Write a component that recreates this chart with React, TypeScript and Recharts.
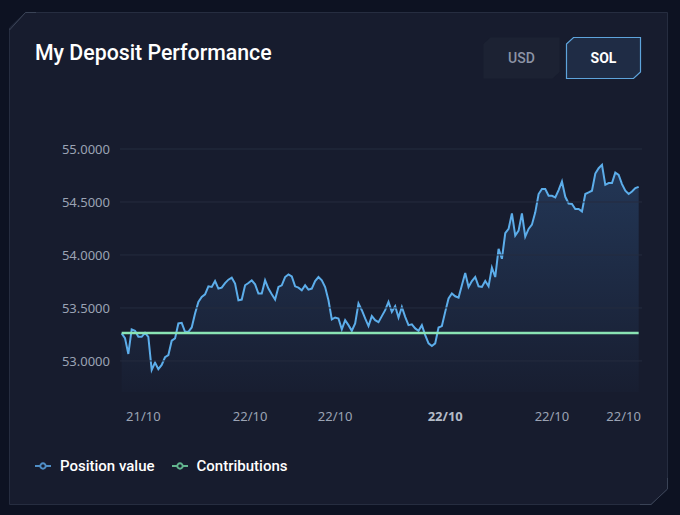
import React from 'react';
import { ComposedChart, Area, Line, XAxis, YAxis, ReferenceLine, Legend } from 'recharts';

const positionValues: number[] = [
  53.26, 53.216, 53.066, 53.298, 53.285, 53.228, 53.228, 53.266, 53.228, 52.915,
  52.984, 52.922, 52.962, 53.035, 53.056, 53.191, 53.213, 53.354, 53.36, 53.275,
  53.275, 53.316, 53.448, 53.557, 53.604, 53.629, 53.704, 53.698, 53.754, 53.683,
  53.692, 53.735, 53.767, 53.786, 53.73, 53.573, 53.579, 53.714, 53.735, 53.761,
  53.723, 53.636, 53.636, 53.761, 53.683, 53.629, 53.579, 53.698, 53.714, 53.792,
  53.817, 53.798, 53.704, 53.692, 53.667, 53.714, 53.673, 53.683, 53.754, 53.792,
  53.761, 53.698, 53.573, 53.392, 53.41, 53.401, 53.298, 53.385, 53.338, 53.285,
  53.354, 53.542, 53.479, 53.401, 53.329, 53.423, 53.385, 53.366, 53.423, 53.479,
  53.557, 53.463, 53.516, 53.41, 53.51, 53.416, 53.338, 53.345, 53.307, 53.285,
  53.338, 53.244, 53.166, 53.141, 53.166, 53.316, 53.329, 53.463, 53.589, 53.636,
  53.61, 53.598, 53.714, 53.829, 53.698, 53.754, 53.792, 53.704, 53.698, 53.754,
  53.704, 53.88, 53.792, 54.058, 53.964, 54.205, 54.246, 54.392, 54.183, 54.23,
  54.392, 54.174, 54.246, 54.286, 54.402, 54.575, 54.622, 54.622, 54.559, 54.559,
  54.543, 54.612, 54.693, 54.549, 54.486, 54.481, 54.434, 54.434, 54.411, 54.575,
  54.59, 54.606, 54.768, 54.819, 54.85, 54.662, 54.678, 54.678, 54.777, 54.756,
  54.669, 54.606, 54.575, 54.599, 54.631, 54.643,
];
const contributionValue = 53.263;

const yTicks = [53, 53.5, 54, 54.5, 55];
const yDomain: [number, number] = [52.707, 55];
const xDomain: [number, number] = [0.5, 157];
const xTickIndex = [7.5, 39.5, 65, 98, 130, 151.5];
const xTickLabels = ['21/10', '22/10', '22/10', '22/10', '22/10', '22/10'];
const boldTickIndex = 3;

const titleText = 'My Deposit Performance';
const currencies = ['USD', 'SOL'];
const activeCurrency = 'SOL';
const seriesOrder = ['position', 'contributions'];
const seriesNames = { position: 'Position value', contributions: 'Contributions' };

const data = positionValues.map((v, i) => ({
  t: i + 1,
  position: v,
  contributions: contributionValue,
}));

const legendIconColors: Record<string, string> = {
  position: '#4f8ec6',
  contributions: '#62b48e',
};

const XTick = (props: any) => {
  const { x, y, payload } = props;
  const i = xTickIndex.indexOf(payload.value);
  return (
    <text
      x={x}
      y={y}
      dy="0.71em"
      textAnchor="middle"
      fill={i === boldTickIndex ? '#b4bbc8' : '#9ba3b4'}
      fontSize={13}
      fontWeight={i === boldTickIndex ? 700 : 400}
      fontFamily="'Noto Sans', sans-serif"
    >
      {xTickLabels[i]}
    </text>
  );
};

const renderLegend = (props: any) => {
  const payload = [...(props.payload || [])].sort(
    (a: any, b: any) => seriesOrder.indexOf(a.dataKey) - seriesOrder.indexOf(b.dataKey)
  );
  return (
    <div style={{ display: 'flex', alignItems: 'center', height: 20 }}>
      {payload.map((entry: any, idx: number) => {
        const c = legendIconColors[entry.dataKey] || entry.color;
        return (
          <div key={idx} style={{ display: 'flex', alignItems: 'center', marginRight: 17 }}>
            <svg width={16} height={16} viewBox="0 0 32 32" style={{ display: 'block' }}>
              <path
                strokeWidth={4}
                fill="none"
                stroke={c}
                d="M0,16h10.67A5.33,5.33,0,1,1,21.33,16H32M21.33,16A5.33,5.33,0,1,1,10.67,16"
              />
            </svg>
            <span
              style={{
                marginLeft: 9,
                color: '#ffffff',
                fontFamily: 'Roboto, sans-serif',
                fontWeight: 500,
                fontSize: 15,
                lineHeight: '20px',
              }}
            >
              {entry.value}
            </span>
          </div>
        );
      })}
    </div>
  );
};

const Background = () => (
  <svg width={680} height={515} style={{ position: 'absolute', left: 0, top: 0 }}>
    <rect x={0} y={0} width={680} height={515} fill="#0d1222" />
    <polygon
      points="9.5,28 25.5,12.5 667.5,12.5 667.5,489 651,504.5 9.5,504.5"
      fill="#171c2e"
      stroke="#262d40"
      strokeWidth={1}
    />
    <polyline points="9.5,30 25.5,12.5 36,12.5" fill="none" stroke="#3a4356" strokeWidth={1} />
    <polyline points="667.5,478 667.5,489 651,504.5 640,504.5" fill="none" stroke="#3a4356" strokeWidth={1} />
    <text
      x={35}
      y={60}
      fill="#ffffff"
      fontSize={21.3}
      fontWeight={500}
      fontFamily="Roboto, sans-serif"
    >
      {titleText}
    </text>
    {currencies.map((c, i) => {
      const x0 = i === 0 ? 483 : 566;
      const x1 = i === 0 ? 560 : 641;
      const y0 = 37;
      const y1 = 79;
      const active = c === activeCurrency;
      const pts = `${x0 + 0.5},${y0 + 7} ${x0 + 7.5},${y0 + 0.5} ${x1 - 0.5},${y0 + 0.5} ${x1 - 0.5},${y1 - 7} ${x1 - 7.5},${y1 - 0.5} ${x0 + 0.5},${y1 - 0.5}`;
      return (
        <g key={c}>
          <polygon
            points={pts}
            fill={active ? '#1f2c45' : '#1c2233'}
            stroke={active ? '#5ea4dc' : 'none'}
            strokeWidth={1.2}
          />
          <text
            x={(x0 + x1) / 2}
            y={63}
            textAnchor="middle"
            fill={active ? '#ffffff' : '#8c94a6'}
            fontSize={14}
            fontWeight={active ? 700 : 500}
            fontFamily="Roboto, sans-serif"
          >
            {c}
          </text>
        </g>
      );
    })}
  </svg>
);

export default function App() {
  return (
    <div style={{ position: 'fixed', left: 0, top: 0, width: 680, height: 515, overflow: 'hidden' }}>
      <Background />
      <div style={{ position: 'absolute', left: 0, top: 0 }}>
        <ComposedChart
          width={680}
          height={515}
          data={data}
          margin={{ top: 149, right: 38, bottom: 73, left: 0 }}
        >
          <defs>
            <linearGradient id="posFill" x1="0" y1="0" x2="0" y2="1">
              <stop offset="0%" stopColor="#3b6da8" stopOpacity={0.55} />
              <stop offset="100%" stopColor="#3b6da8" stopOpacity={0.04} />
            </linearGradient>
          </defs>
          {yTicks.map((t) => (
            <ReferenceLine key={t} y={t} stroke="#252c3f" strokeWidth={1} />
          ))}
          <XAxis
            dataKey="t"
            type="number"
            domain={xDomain}
            ticks={xTickIndex}
            interval={0}
            axisLine={false}
            tickLine={false}
            tickMargin={14}
            height={30}
            tick={<XTick />}
          />
          <YAxis
            type="number"
            domain={yDomain}
            ticks={yTicks}
            allowDataOverflow
            axisLine={false}
            tickLine={false}
            width={120}
            tickMargin={4}
            tickFormatter={(v: number) => v.toFixed(4)}
            tick={{ fill: '#9ba3b4', fontSize: 13, fontFamily: "'Noto Sans', sans-serif" }}
          />
          <Legend
            verticalAlign="bottom"
            align="left"
            content={renderLegend}
            wrapperStyle={{ left: 35, top: 456, bottom: 'auto', width: 'auto' }}
          />
          <Area
            type="linear"
            dataKey="position"
            name={seriesNames.position}
            stroke="#5cadea"
            strokeWidth={2}
            fill="url(#posFill)"
            dot={false}
            activeDot={false}
            isAnimationActive={false}
          />
          <Line
            type="linear"
            dataKey="contributions"
            name={seriesNames.contributions}
            stroke="#8ae4b4"
            strokeWidth={2.5}
            dot={false}
            activeDot={false}
            isAnimationActive={false}
          />
        </ComposedChart>
      </div>
    </div>
  );
}
